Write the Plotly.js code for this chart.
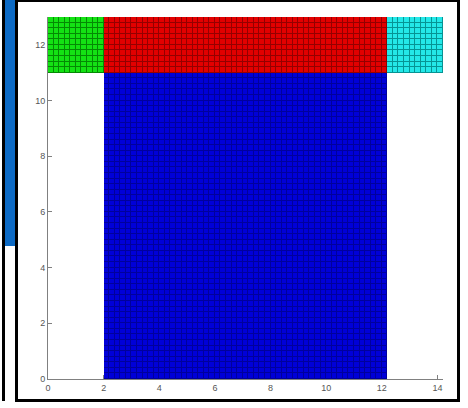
<!DOCTYPE html>
<html>
<head>
<meta charset="utf-8">
<script src="https://cdn.plot.ly/plotly-3.0.1.min.js"></script>
<style>
  html, body { margin: 0; padding: 0; background: #fff; width: 468px; height: 408px; overflow: hidden; }
  #chart { position: absolute; left: 0; top: 0; width: 468px; height: 408px; }
  .f { position: absolute; pointer-events: none; }
</style>
</head>
<body>
<div id="chart"></div>
<div class="f" style="left:2px;top:0;width:3px;height:401px;background:#000;"></div>
<div class="f" style="left:5px;top:0;width:10px;height:246px;background:#0d6ac4;"></div>
<div class="f" style="left:15px;top:0;width:3px;height:402px;background:#000;"></div>
<div class="f" style="left:18px;top:0;width:441px;height:2px;background:#000;"></div>
<div class="f" style="left:18px;top:399px;width:441px;height:3px;background:#000;"></div>
<div class="f" style="left:457px;top:0;width:3px;height:402px;background:#000;"></div>
<script>
// Regions of the mesh (x from, x to, y from, y to) and their colours
const regionNames = ['green', 'red', 'blue', 'cyan'];
const regionX0 = [0, 2, 2, 12.2];
const regionX1 = [2, 12.2, 12.2, 14.2];
const regionY0 = [11, 11, 0, 11];
const regionY1 = [13, 13, 11, 13];
const faceColors = ['#14e214', '#e20000', '#0000d8', '#24e8e8'];
const edgeColors = ['#048a04', '#940000', '#00009c', '#069494'];
const cellSize = 0.2;
const xMax = 14.2, yMax = 13;

const nx = Math.round(xMax / cellSize), ny = Math.round(yMax / cellSize);
const xc = [], yc = [];
for (let i = 0; i < nx; i++) xc.push(Math.round((i + 0.5) * cellSize * 100) / 100);
for (let j = 0; j < ny; j++) yc.push(Math.round((j + 0.5) * cellSize * 100) / 100);
const z = yc.map(y => xc.map(x => {
  for (let k = 0; k < regionNames.length; k++) {
    if (x > regionX0[k] && x < regionX1[k] && y > regionY0[k] && y < regionY1[k]) return k;
  }
  return null;
}));
function scale(cols) {
  const n = cols.length, s = [];
  cols.forEach((c, k) => { s.push([k / n, c]); s.push([(k + 1) / n, c]); });
  return s;
}
const common = { x: xc, y: yc, z: z, zmin: -0.5, zmax: regionNames.length - 0.5,
  showscale: false, hoverinfo: 'skip', type: 'heatmap' };
const traces = [
  Object.assign({}, common, { colorscale: scale(edgeColors) }),
  Object.assign({}, common, { colorscale: scale(faceColors), xgap: 1, ygap: 1 })
];
const axisCommon = {
  showgrid: false, zeroline: false, showline: true, linecolor: '#808080', linewidth: 1,
  ticks: 'inside', ticklen: 4, tickcolor: '#808080', dtick: 2, tick0: 0,
  tickfont: { family: 'Liberation Sans, Arial, sans-serif', size: 9, color: '#555' },
  layer: 'below traces', fixedrange: true
};
const layout = {
  width: 468, height: 408,
  margin: { l: 48, r: 25, t: 17, b: 29, pad: 0 },
  paper_bgcolor: 'rgba(0,0,0,0)', plot_bgcolor: '#fff',
  showlegend: false,
  xaxis: Object.assign({}, axisCommon, { range: [0, xMax] }),
  yaxis: Object.assign({}, axisCommon, { range: [0, yMax] })
};
Plotly.newPlot('chart', traces, layout, { displayModeBar: false, staticPlot: true });
</script>
</body>
</html>
